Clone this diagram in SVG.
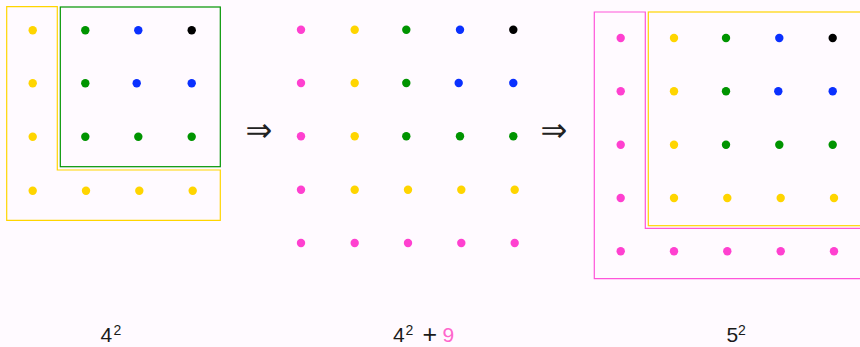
<svg xmlns="http://www.w3.org/2000/svg" width="860" height="347" viewBox="0 0 860 347">
<style>
.y{fill:#FFD500}.g{fill:#009400}.b{fill:#0A30FF}.k{fill:#000}.p{fill:#FF40D0}
.oy{fill:none;stroke:#FFD500;stroke-width:1.2}
.og{fill:none;stroke:#009400;stroke-width:1.2}
.op{fill:none;stroke:#FF55DA;stroke-width:1.2}
.lbl{font-family:"Liberation Sans",Arial,sans-serif;fill:#1a1a1a}
.arr{font-family:"DejaVu Sans",sans-serif;font-size:32px;fill:#222}
</style>
<rect width="860" height="347" fill="#FFFAFF"/>
<g id="panel1">
<polygon class="oy" points="6.7,6.7 57.3,6.7 57.3,170 220.3,170 220.3,220.3 6.7,220.3"/>
<rect class="og" x="60.3" y="7" width="160" height="159.7"/>
<circle class="y" cx="32.7" cy="30.3" r="4.2"/><circle class="g" cx="85.3" cy="30.3" r="4.2"/><circle class="b" cx="138.3" cy="30.3" r="4.2"/><circle class="k" cx="191.7" cy="30.3" r="4.2"/>
<circle class="y" cx="32.7" cy="83.3" r="4.2"/><circle class="g" cx="85.3" cy="83.3" r="4.2"/><circle class="b" cx="136.7" cy="83.3" r="4.2"/><circle class="b" cx="191.7" cy="83.3" r="4.2"/>
<circle class="y" cx="32.7" cy="136.7" r="4.2"/><circle class="g" cx="85.3" cy="136.7" r="4.2"/><circle class="g" cx="138.3" cy="136.7" r="4.2"/><circle class="g" cx="191.7" cy="136.7" r="4.2"/>
<circle class="y" cx="32.7" cy="190.7" r="4.2"/><circle class="y" cx="86" cy="190.7" r="4.2"/><circle class="y" cx="139.3" cy="190.7" r="4.2"/><circle class="y" cx="192.7" cy="190.7" r="4.2"/>
</g>
<g id="panel2">
<circle class="p" cx="301" cy="29.7" r="4.2"/><circle class="y" cx="354.7" cy="29.7" r="4.2"/><circle class="g" cx="406.3" cy="29.7" r="4.2"/><circle class="b" cx="460" cy="29.7" r="4.2"/><circle class="k" cx="513.3" cy="29.7" r="4.2"/>
<circle class="p" cx="301" cy="83" r="4.2"/><circle class="y" cx="354.7" cy="83" r="4.2"/><circle class="g" cx="406.3" cy="83" r="4.2"/><circle class="b" cx="458.7" cy="83" r="4.2"/><circle class="b" cx="513.3" cy="83" r="4.2"/>
<circle class="p" cx="301" cy="136.3" r="4.2"/><circle class="y" cx="354.7" cy="136.3" r="4.2"/><circle class="g" cx="406.3" cy="136.3" r="4.2"/><circle class="g" cx="460" cy="136.3" r="4.2"/><circle class="g" cx="513.3" cy="136.3" r="4.2"/>
<circle class="p" cx="301" cy="189.7" r="4.2"/><circle class="y" cx="354.7" cy="189.7" r="4.2"/><circle class="y" cx="408" cy="189.7" r="4.2"/><circle class="y" cx="461.3" cy="189.7" r="4.2"/><circle class="y" cx="514.7" cy="189.7" r="4.2"/>
<circle class="p" cx="301" cy="243" r="4.2"/><circle class="p" cx="354.7" cy="243" r="4.2"/><circle class="p" cx="408" cy="243" r="4.2"/><circle class="p" cx="461.3" cy="243" r="4.2"/><circle class="p" cx="514.7" cy="243" r="4.2"/>
</g>
<g id="panel3">
<polygon class="op" points="594.3,12 645.3,12 645.3,228.3 870,228.3 870,278.7 594.3,278.7"/>
<rect class="oy" x="648.3" y="12" width="230" height="213.7"/>
<circle class="p" cx="620.7" cy="38" r="4.2"/><circle class="y" cx="674" cy="38" r="4.2"/><circle class="g" cx="726" cy="38" r="4.2"/><circle class="b" cx="779.3" cy="38" r="4.2"/><circle class="k" cx="832.7" cy="38" r="4.2"/>
<circle class="p" cx="620.7" cy="91.3" r="4.2"/><circle class="y" cx="674" cy="91.3" r="4.2"/><circle class="g" cx="726" cy="91.3" r="4.2"/><circle class="b" cx="778.3" cy="91.3" r="4.2"/><circle class="b" cx="832.7" cy="91.3" r="4.2"/>
<circle class="p" cx="620.7" cy="144.7" r="4.2"/><circle class="y" cx="674" cy="144.7" r="4.2"/><circle class="g" cx="726" cy="144.7" r="4.2"/><circle class="g" cx="779.3" cy="144.7" r="4.2"/><circle class="g" cx="832.7" cy="144.7" r="4.2"/>
<circle class="p" cx="620.7" cy="198" r="4.2"/><circle class="y" cx="674" cy="198" r="4.2"/><circle class="y" cx="727.3" cy="198" r="4.2"/><circle class="y" cx="780.7" cy="198" r="4.2"/><circle class="y" cx="834" cy="198" r="4.2"/>
<circle class="p" cx="620.7" cy="251.3" r="4.2"/><circle class="p" cx="674" cy="251.3" r="4.2"/><circle class="p" cx="727.3" cy="251.3" r="4.2"/><circle class="p" cx="780.7" cy="251.3" r="4.2"/><circle class="p" cx="834" cy="251.3" r="4.2"/>
</g>
<g id="connectors">
<text class="arr" x="245.5" y="141">⇒</text>
<text class="arr" x="540.5" y="141">⇒</text>
</g>
<g id="labels">
<text class="lbl" font-size="21" x="100.5" y="342">4</text><text class="lbl" font-size="14" x="113.5" y="335">2</text>
<text class="lbl" font-size="21" x="393" y="342">4</text><text class="lbl" font-size="14" x="405.5" y="335">2</text>
<text class="lbl" font-size="25" x="422.5" y="342.5">+</text>
<text class="lbl" font-size="21" x="442.5" y="342" style="fill:#FF66CC">9</text>
<text class="lbl" font-size="21" x="726.5" y="342">5</text><text class="lbl" font-size="14" x="738" y="335">2</text>
</g>
</svg>
